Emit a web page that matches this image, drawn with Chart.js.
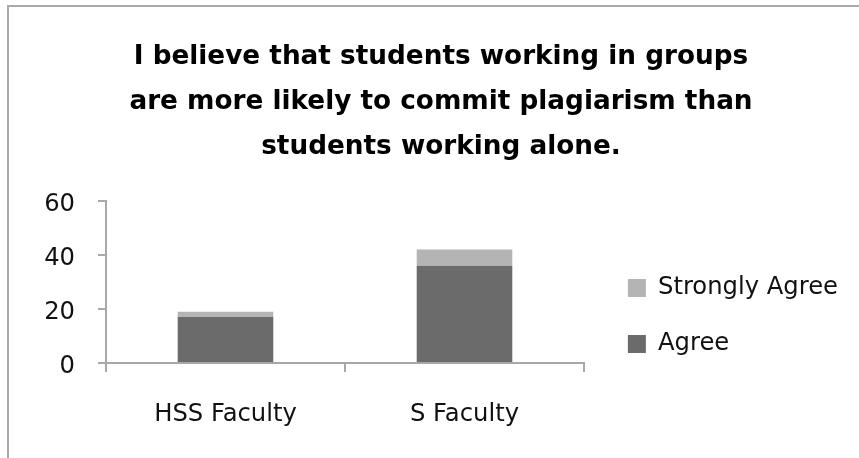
<!DOCTYPE html>
<html><head><meta charset="utf-8">
<script src="https://cdn.jsdelivr.net/npm/chart.js@4"></script>
<style>
html,body{margin:0;padding:0;background:#fff;}
#wrap{position:relative;width:859px;height:458px;overflow:hidden;}
#frame{position:absolute;left:7px;top:5px;width:900px;height:500px;border-left:2px solid #a9a9a9;border-top:2px solid #a9a9a9;}
canvas{position:absolute;left:0;top:0;}
</style></head><body>
<div id="wrap"><div id="frame"></div><canvas id="c" width="859" height="458"></canvas></div>
<script>
const categories = ['HSS Faculty', 'S Faculty'];
const agree = [17, 36];
const stronglyAgree = [2, 6];
const yTickValues = [0, 20, 40, 60];
const titleLines = ['I believe that students working in groups', 'are more likely to commit plagiarism than', 'students working alone.'];
const seriesNames = ['Agree', 'Strongly Agree'];

const FONT = 'DejaVu Sans';
const AXIS = '#a8a8a8';

// fit font sizes to the footprint of the text in the reference
const mc = document.createElement('canvas').getContext('2d');
function widthAt(text, weight, size) { mc.font = weight + ' ' + size + 'px "' + FONT + '"'; return mc.measureText(text).width; }
const titleSize = 100 * 615 / widthAt(titleLines[0], 'bold', 100);
const labelSize = 100 * 180 / widthAt(seriesNames[1], 'normal', 100);

const PAD_L = 34, PAD_R = 11;
const LEG_PAD = 56 - labelSize;
const legendTextW = widthAt(seriesNames[1], 'normal', labelSize);
const legendW = LEG_PAD + 18 + labelSize / 2 + legendTextW + 10;
const gapW = Math.max(0, (859 - PAD_R - legendW) - 584);
const xLabelH = labelSize * 1.2;
const xTickPad = (458 - 363 - 9 - xLabelH) / 2;
const legTitlePad = 2 * 279 - 2 * (labelSize - 18) / 2 - LEG_PAD - 458 + 2 * (labelSize + LEG_PAD) - 1;

new Chart(document.getElementById('c'), {
  type: 'bar',
  data: {
    labels: categories,
    datasets: [
      { label: seriesNames[0], data: agree, backgroundColor: '#6b6b6b', barPercentage: 0.4, categoryPercentage: 1.0 },
      { label: seriesNames[1], data: stronglyAgree, backgroundColor: '#b4b4b4', barPercentage: 0.4, categoryPercentage: 1.0 }
    ]
  },
  options: {
    responsive: false,
    animation: false,
    devicePixelRatio: 1,
    layout: { padding: { left: PAD_L, right: PAD_R, top: 0, bottom: 0 } },
    plugins: {
      tooltip: { enabled: false },
      title: {
        display: true,
        text: titleLines,
        color: '#000',
        font: { family: FONT, size: titleSize, weight: 'bold', lineHeight: 45 / titleSize },
        padding: { top: 35, bottom: 31 }
      },
      legend: {
        position: 'right',
        reverse: true,
        maxWidth: 400,
        title: { display: true, text: ' ', font: { size: 1, lineHeight: 1 }, padding: { top: legTitlePad, bottom: 0 } },
        labels: {
          boxWidth: 18, boxHeight: 18,
          padding: LEG_PAD,
          color: '#111',
          font: { family: FONT, size: labelSize }
        }
      }
    },
    scales: {
      x: {
        stacked: true,
        grid: { display: true, drawOnChartArea: false, drawTicks: true, tickLength: 9, color: AXIS, lineWidth: 2 },
        border: { display: true, color: AXIS, width: 2 },
        ticks: { color: '#111', font: { family: FONT, size: labelSize }, padding: xTickPad, maxRotation: 0 }
      },
      y: {
        stacked: true,
        min: 0, max: 60,
        afterBuildTicks: (s) => { s.ticks = yTickValues.map(v => ({ value: v })); },
        afterFit: (s) => { s.width = 106 - PAD_L; },
        grid: { display: true, drawOnChartArea: false, drawTicks: true, tickLength: 8, color: AXIS, lineWidth: 2 },
        border: { display: true, color: AXIS, width: 2 },
        ticks: { color: '#111', font: { family: FONT, size: labelSize }, padding: 23, labelOffset: 4 }
      },
      gap: {
        position: 'right',
        display: true,
        grid: { display: false },
        border: { display: false },
        ticks: { display: false },
        afterFit: (s) => { s.width = gapW; }
      }
    }
  }
});
</script>
</body></html>
